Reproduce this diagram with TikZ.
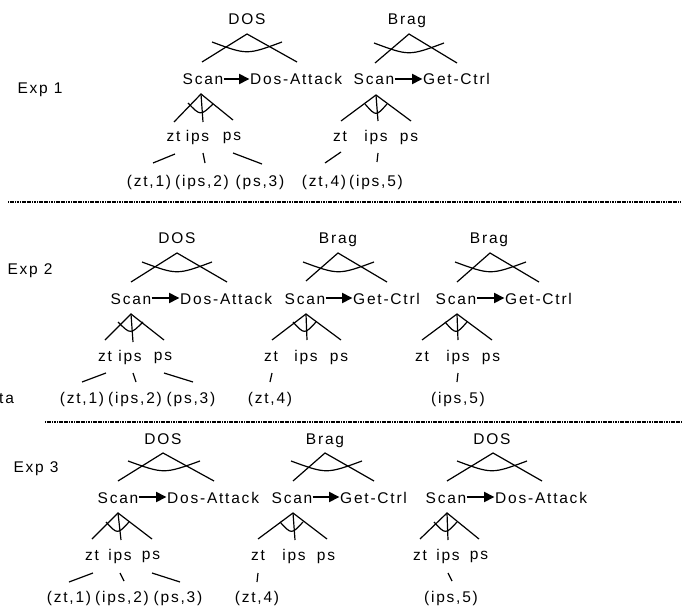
\documentclass[tikz,border=0pt]{standalone}
\usepackage{fontspec}
\setmainfont{Liberation Sans}[LetterSpace=11.5]
\usetikzlibrary{arrows.meta,calc}
% #1 prefix, #2 apex, #3 left end, #4 right end, #5 arc start, #6 arc end
\newcommand\mkwedge[6]{%
  \coordinate (#1) at (#2); \coordinate (#1l) at (#3); \coordinate (#1r) at (#4);
  \coordinate (#1a) at (#5); \coordinate (#1b) at (#6);
  \draw[ln] (#1l) -- (#1) -- (#1r);
  \draw[ln] (#1a) .. controls ($(#1a)!0.5!(#1b)+(0,13)$) .. (#1b);}
% #1 prefix, #2 apex, #3 left, #4 right, #5 middle, #6 arc start, #7 arc end
\newcommand\mkfork[7]{%
  \coordinate (#1) at (#2); \coordinate (#1l) at (#3); \coordinate (#1r) at (#4);
  \coordinate (#1m) at (#5); \coordinate (#1a) at (#6); \coordinate (#1b) at (#7);
  \draw[ln] (#1l) -- (#1) -- (#1r);
  \draw[ln] (#1) -- (#1m);
  \draw[ln] (#1a) .. controls ($(#1a)!0.5!(#1b)+(0,12.5)$) .. (#1b);}
% #1 prefix, #2 start, #3 end
\newcommand\mkleaf[3]{%
  \coordinate (#1s) at (#2); \coordinate (#1e) at (#3);
  \draw[ln] (#1s) -- (#1e);}
\begin{document}
\begin{tikzpicture}[x=1pt,y=-1pt,
  txt/.style={inner sep=0pt,anchor=base,font=\fontsize{15.5}{18}\selectfont},
  txtw/.style={txt,anchor=base west},
  ln/.style={line width=1.2pt},
  arr/.style={line width=2pt,-{Triangle[length=10.5pt,width=10pt]}},
  dotln/.style={line width=2pt,dash pattern=on 1.2pt off 0.5pt}]
\useasboundingbox (0,0) rectangle (683,607);

% ---------------- Exp 1 ----------------
\node[txt] (e1) at (40,94) {Exp 1};
% tree 1A
\node[txt] (t1a) at (247,25) {DOS};
\mkwedge{w1a}{247,34}{202,62}{297,62}{212,42}{282,42}
\node[txt] (s1a) at (203,85) {Scan};
\node[txtw] (g1a) at (250,85) {Dos-Attack};
\draw[arr] ($(s1a.base east)+(0,-6)$) -- ($(g1a.base west)+(-0.5,-6)$);
\mkfork{f1a}{201,94}{174,122}{233,120}{203,122}{188,103}{213,104}
\node[txt] (z1a) at (173.5,142) {zt};
\node[txt] (i1a) at (197.5,142) {ips};
\node[txt] (p1a) at (232,141) {ps};
\mkleaf{l1az}{175,154}{153,163}
\mkleaf{l1ai}{203,153}{205,163}
\mkleaf{l1ap}{233,153}{262,164}
\node[txt] (b1az) at (149,186) {(zt,1)};
\node[txt] (b1ai) at (202,186) {(ips,2)};
\node[txt] (b1ap) at (260,186) {(ps,3)};
% tree 1B
\node[txt] (t1b) at (407,25) {Brag};
\mkwedge{w1b}{409,34}{375,63}{457,63}{374,43}{444,43}
\node[txt] (s1b) at (374,85) {Scan};
\node[txtw] (g1b) at (423,85) {Get-Ctrl};
\draw[arr] ($(s1b.base east)+(0,-6)$) -- ($(g1b.base west)+(-0.5,-6)$);
\mkfork{f1b}{376,95}{341,121}{411,121}{378,121}{365,104}{387,104}
\node[txt] (z1b) at (340,142) {zt};
\node[txt] (i1b) at (376,142) {ips};
\node[txt] (p1b) at (409,142) {ps};
\mkleaf{l1bz}{341,152}{325,163}
\mkleaf{l1bi}{378,153}{377,162}
\node[txt] (b1bz) at (324,186) {(zt,4)};
\node[txt] (b1bi) at (376,186) {(ips,5)};

\coordinate (d1s) at (8,202); \coordinate (d1e) at (681,202);
\draw[dotln] (d1s) -- (d1e);

% ---------------- Exp 2 ----------------
\node[txt] (e2) at (30,274) {Exp 2};
\node[txtw] (ta) at (-1,403) {ta};
% tree 2A
\node[txt] (t2a) at (177,243) {DOS};
\mkwedge{w2a}{177,253}{131,282}{227,282}{142,262}{212,262}
\node[txt] (s2a) at (131,304) {Scan};
\node[txtw] (g2a) at (180,304) {Dos-Attack};
\draw[arr] ($(s2a.base east)+(0,-6)$) -- ($(g2a.base west)+(-0.5,-6)$);
\mkfork{f2a}{131,314}{105,340}{164,340}{133,342}{118,322}{143,322}
\node[txt] (z2a) at (105,361) {zt};
\node[txt] (i2a) at (130,361) {ips};
\node[txt] (p2a) at (163,360) {ps};
\mkleaf{l2az}{106,373}{82,382}
\mkleaf{l2ai}{133,373}{136,382}
\mkleaf{l2ap}{164,373}{193,382}
\node[txt] (b2az) at (82,403) {(zt,1)};
\node[txt] (b2ai) at (135,403) {(ips,2)};
\node[txt] (b2ap) at (191,403) {(ps,3)};
% tree 2B
\node[txt] (t2b) at (338,243) {Brag};
\mkwedge{w2b}{338,253}{306,281}{387,282}{303,262}{374,262}
\node[txt] (s2b) at (305,304) {Scan};
\node[txtw] (g2b) at (353,304) {Get-Ctrl};
\draw[arr] ($(s2b.base east)+(0,-6)$) -- ($(g2b.base west)+(-0.5,-6)$);
\mkfork{f2b}{306,314}{272,340}{341,340}{307,340}{293,322}{316,322}
\node[txt] (z2b) at (271,361) {zt};
\node[txt] (i2b) at (306,361) {ips};
\node[txt] (p2b) at (339,361) {ps};
\mkleaf{l2bz}{272,373}{270,382}
\node[txt] (b2bz) at (270,403) {(zt,4)};
% tree 2C
\node[txt] (t2c) at (489,243) {Brag};
\mkwedge{w2c}{490,253}{457,282}{539,282}{455,262}{526,262}
\node[txt] (s2c) at (456,304) {Scan};
\node[txtw] (g2c) at (505,304) {Get-Ctrl};
\draw[arr] ($(s2c.base east)+(0,-6)$) -- ($(g2c.base west)+(-0.5,-6)$);
\mkfork{f2c}{457,314}{422,340}{492,340}{458,340}{445,322}{467,322}
\node[txt] (z2c) at (422,361) {zt};
\node[txt] (i2c) at (458,361) {ips};
\node[txt] (p2c) at (491,361) {ps};
\mkleaf{l2ci}{458,373}{457,382}
\node[txt] (b2ci) at (458,403) {(ips,5)};

\coordinate (d2s) at (45,422); \coordinate (d2e) at (681,422);
\draw[dotln] (d2s) -- (d2e);

% ---------------- Exp 3 ----------------
\node[txt] (e3) at (36,472) {Exp 3};
% tree 3A
\node[txt] (t3a) at (163,444) {DOS};
\mkwedge{w3a}{163,453}{118,481}{214,481}{128,461}{200,461}
\node[txt] (s3a) at (118,503) {Scan};
\node[txtw] (g3a) at (167,503) {Dos-Attack};
\draw[arr] ($(s3a.base east)+(0,-6)$) -- ($(g3a.base west)+(-0.5,-6)$);
\mkfork{f3a}{118,513}{92,539}{152,539}{121,540}{106,522}{129,522}
\node[txt] (z3a) at (92,560) {zt};
\node[txt] (i3a) at (120,560) {ips};
\node[txt] (p3a) at (151,559) {ps};
\mkleaf{l3az}{93,573}{69,582}
\mkleaf{l3ai}{120,573}{124,581}
\mkleaf{l3ap}{152,573}{180,582}
\node[txt] (b3az) at (69,602) {(zt,1)};
\node[txt] (b3ai) at (122,602) {(ips,2)};
\node[txt] (b3ap) at (178,602) {(ps,3)};
% tree 3B
\node[txt] (t3b) at (325,444) {Brag};
\mkwedge{w3b}{325,453}{293,481}{374,481}{291,461}{362,461}
\node[txt] (s3b) at (292,503) {Scan};
\node[txtw] (g3b) at (340,503) {Get-Ctrl};
\draw[arr] ($(s3b.base east)+(0,-6)$) -- ($(g3b.base west)+(-0.5,-6)$);
\mkfork{f3b}{293,513}{258,539}{327,539}{295,540}{280,522}{303,522}
\node[txt] (z3b) at (258,560) {zt};
\node[txt] (i3b) at (294,560) {ips};
\node[txt] (p3b) at (326,560) {ps};
\mkleaf{l3bz}{258,573}{257,582}
\node[txt] (b3bz) at (257,602) {(zt,4)};
% tree 3C
\node[txt] (t3c) at (492,444) {DOS};
\mkwedge{w3c}{493,453}{447,481}{542,481}{457,461}{527,461}
\node[txt] (s3c) at (446,503) {Scan};
\node[txtw] (g3c) at (495,503) {Dos-Attack};
\draw[arr] ($(s3c.base east)+(0,-6)$) -- ($(g3c.base west)+(-0.5,-6)$);
\mkfork{f3c}{447,513}{420,539}{479,539}{448,540}{434,522}{457,522}
\node[txt] (z3c) at (420,560) {zt};
\node[txt] (i3c) at (448,560) {ips};
\node[txt] (p3c) at (479,559) {ps};
\mkleaf{l3ci}{448,573}{452,581}
\node[txt] (b3ci) at (451,602) {(ips,5)};
\end{tikzpicture}
\end{document}
